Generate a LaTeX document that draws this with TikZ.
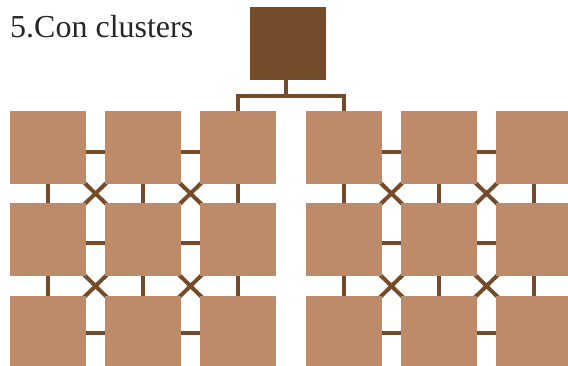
\documentclass[tikz,border=0pt]{standalone}
\usepackage{fontspec}
\setmainfont{Liberation Serif}
\usepackage{xcolor}
\usepackage{tikz}
\usetikzlibrary{positioning, backgrounds}
\definecolor{linkbrown}{RGB}{117,76,41}
\definecolor{cellbrown}{RGB}{190,139,106}
\tikzset{
  cell/.style={rectangle, fill=cellbrown, minimum width=76pt, minimum height=73pt, inner sep=0pt},
  head/.style={rectangle, fill=linkbrown, minimum width=76pt, minimum height=73pt, inner sep=0pt},
  link/.style={draw=linkbrown, line width=4pt}
}
\begin{document}
\begin{tikzpicture}[x=1pt, y=-1pt]
    \clip (0,0) rectangle (568,365);

    % Titel
    \node[anchor=base west, inner sep=0pt, text=black!85] (title) at (10,37)
        {\fontsize{32}{38}\selectfont 5.Con clusters};

    % Kopf
    \node[head] (H) at (288,43.5) {};

    % linker Cluster
    \node[cell] (L11) at (48,147.5) {};
    \node[cell] (L12) at (143,147.5) {};
    \node[cell] (L13) at (238,147.5) {};
    \node[cell] (L21) at (48,239.5) {};
    \node[cell] (L22) at (143,239.5) {};
    \node[cell] (L23) at (238,239.5) {};
    \node[cell] (L31) at (48,332.5) {};
    \node[cell] (L32) at (143,332.5) {};
    \node[cell] (L33) at (238,332.5) {};

    % rechter Cluster
    \node[cell] (R11) at (344,147.5) {};
    \node[cell] (R12) at (439,147.5) {};
    \node[cell] (R13) at (534,147.5) {};
    \node[cell] (R21) at (344,239.5) {};
    \node[cell] (R22) at (439,239.5) {};
    \node[cell] (R23) at (534,239.5) {};
    \node[cell] (R31) at (344,332.5) {};
    \node[cell] (R32) at (439,332.5) {};
    \node[cell] (R33) at (534,332.5) {};

    % Verbindungen
    \begin{scope}[on background layer]
        \coordinate (J) at (286,96);
        \draw[link] ([xshift=-2pt]H.center) -- (J);
        \draw[link] (L13.center) |- (J) -| (R11.center);
        \foreach \c in {L,R} {
            % waagerecht
            \draw[link] ([yshift=-4pt]\c11.center) -- ([yshift=-4pt]\c12.center) -- ([yshift=-4pt]\c13.center);
            \draw[link] ([yshift=-3.5pt]\c21.center) -- ([yshift=-3.5pt]\c22.center) -- ([yshift=-3.5pt]\c23.center);
            \draw[link] (\c31.center) -- (\c32.center) -- (\c33.center);
            % senkrecht
            \draw[link] (\c11.center) -- (\c21.center) -- (\c31.center);
            \draw[link] (\c12.center) -- (\c22.center) -- (\c32.center);
            \draw[link] (\c13.center) -- (\c23.center) -- (\c33.center);
            % Kreuze
            \draw[link] (\c11.center) -- (\c22.center) -- (\c33.center);
            \draw[link] (\c12.center) -- (\c21.center);
            \draw[link] (\c13.center) -- (\c22.center) -- (\c31.center);
            \draw[link] (\c12.center) -- (\c23.center);
            \draw[link] (\c21.center) -- (\c32.center);
            \draw[link] (\c23.center) -- (\c32.center);
        }
    \end{scope}
\end{tikzpicture}
\end{document}
